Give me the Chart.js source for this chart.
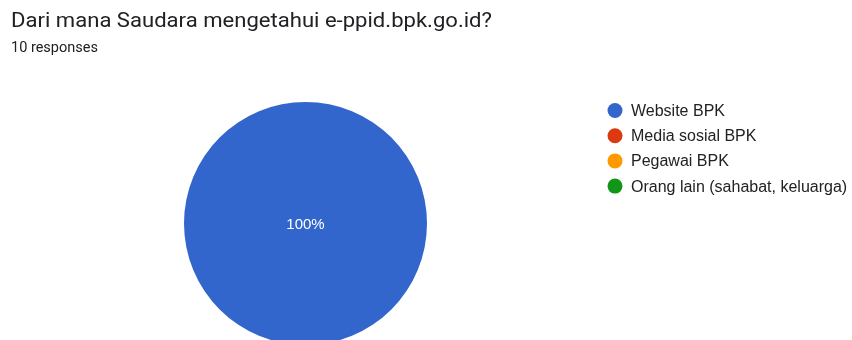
<!DOCTYPE html>
<html><head><meta charset="utf-8">
<script src="https://cdn.jsdelivr.net/npm/chart.js@4"></script>
<style>
html,body{margin:0;padding:0;background:#fff;width:852px;height:340px;overflow:hidden;}
#title{position:absolute;left:11px;top:9px;font-family:Roboto,Arial,sans-serif;font-size:19.5px;line-height:24px;color:#202124;white-space:nowrap;transform-origin:0 0;}
#sub{position:absolute;left:11px;top:39px;font-family:Roboto,Arial,sans-serif;font-size:14.5px;line-height:18px;color:#202124;white-space:nowrap;}
#wrap{position:absolute;left:0;top:0;width:852px;height:360px;}
</style></head><body>
<div id="wrap"><canvas id="c" width="852" height="360"></canvas></div>
<div id="title">Dari mana Saudara mengetahui e-ppid.bpk.go.id?</div>
<div id="sub">10 responses</div>
<script>
const categories = ["Website BPK", "Media sosial BPK", "Pegawai BPK", "Orang lain (sahabat, keluarga)"];
const responses = [10, 0, 0, 0];
const colors = ["#3366cc", "#dc3912", "#ff9900", "#109618"];

// widen title glyphs to the reference width
(function(){
  const el = document.getElementById('title');
  const target = 481;
  const w = el.getBoundingClientRect().width;
  el.style.transform = 'scaleX(' + (target / w) + ')';
})();

const sliceLabels = {
  id: 'sliceLabels',
  afterDatasetsDraw(chart) {
    const ctx = chart.ctx;
    const meta = chart.getDatasetMeta(0);
    const data = chart.data.datasets[0].data;
    const total = data.reduce((a, b) => a + b, 0);
    ctx.save();
    ctx.font = '15px "Liberation Sans", Arial, sans-serif';
    ctx.fillStyle = '#ffffff';
    ctx.textAlign = 'center';
    ctx.textBaseline = 'middle';
    meta.data.forEach((arc, i) => {
      if (!data[i]) return;
      const pct = Math.round(data[i] / total * 100) + '%';
      let x, y;
      if (data[i] === total) { x = arc.x; y = arc.y; }
      else { const p = arc.tooltipPosition(); x = p.x; y = p.y; }
      ctx.fillText(pct, x, y + 1);
    });
    ctx.restore();
  }
};

const customLegend = {
  id: 'customLegend',
  afterDraw(chart) {
    const ctx = chart.ctx;
    ctx.save();
    ctx.font = '16px "Liberation Sans", Arial, sans-serif';
    ctx.textBaseline = 'middle';
    chart.data.labels.forEach((lab, i) => {
      const y = 110.5 + i * 25.2;
      ctx.fillStyle = chart.data.datasets[0].backgroundColor[i];
      ctx.beginPath();
      ctx.arc(615, y, 7.5, 0, Math.PI * 2);
      ctx.fill();
      ctx.fillStyle = '#222222';
      ctx.fillText(lab, 631, y + 1);
    });
    ctx.restore();
  }
};

new Chart(document.getElementById('c'), {
  type: 'pie',
  data: { labels: categories, datasets: [{ data: responses, backgroundColor: colors, borderWidth: 0 }] },
  options: {
    responsive: false,
    animation: false,
    layout: { padding: { left: 184, right: 425, top: 102, bottom: 15 } },
    plugins: { legend: { display: false }, tooltip: { enabled: false }, title: { display: false } }
  },
  plugins: [sliceLabels, customLegend]
});
</script>
</body></html>
